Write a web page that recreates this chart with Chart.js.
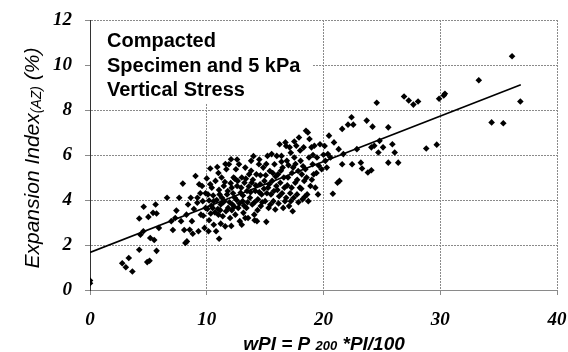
<!DOCTYPE html>
<html>
<head>
<meta charset="utf-8">
<script src="https://cdn.jsdelivr.net/npm/chart.js@4.4.0/dist/chart.umd.min.js"></script>
<style>
  html, body { margin: 0; padding: 0; background: #fff; }
  #wrap { width: 568px; height: 352px; }
</style>
</head>
<body>
<div id="wrap"><canvas id="eiChart"></canvas></div>
<script>
// measured points: wPI (x) and Expansion Index (y)
var wpi = [
  0, 0, 2.76, 3.07, 3.32, 3.63, 4.22, 4.22, 4.32, 4.57, 4.6, 4.9, 5.1, 5.0, 5.16, 5.5, 5.4, 5.62, 5.7, 5.7,
  5.9, 6.6, 6.96, 7.1, 7.3, 7.4, 7.64, 7.8, 7.95, 8.07, 8.17, 8.3, 8.26, 8.4, 8.54, 8.63, 8.73, 8.8, 9.04, 9.19,
  9.29, 9.35, 9.5, 9.6, 9.66, 9.81, 9.9,
  10.0, 10.1, 10.15, 10.2, 10.34, 10.43, 10.5, 10.6, 10.75, 10.8, 10.9, 11.0, 11.06, 11.1, 11.2, 11.27, 11.37, 11.46, 11.5, 11.58,
  11.68, 11.74, 11.83, 11.9, 12.0, 12.08, 12.14, 12.2, 12.3, 12.4, 12.45, 12.5, 12.6, 12.7, 12.76, 12.83, 12.9, 13.0, 13.07, 13.14,
  13.23, 13.3, 13.4, 13.45, 13.54, 13.63, 13.7, 13.8, 13.85, 13.9, 14.0, 14.07, 14.16, 14.25, 14.3, 14.38, 14.47, 14.57, 14.63, 14.7,
  14.84, 14.94, 15.0, 15.1, 15.2, 15.25, 15.3, 15.4, 15.5, 15.56, 15.6, 15.7, 15.8, 15.87, 15.96, 16.0, 16.1, 16.2, 16.24, 16.3,
  16.4, 16.5, 16.55, 16.65, 16.74, 16.8, 16.86, 16.96, 17.05, 17.1, 17.2, 17.27, 17.36, 17.4, 17.5, 17.58, 17.67, 17.73, 17.83, 17.9,
  17.98, 18.04, 18.14, 18.2, 18.3, 18.35, 18.45, 18.5, 18.6, 18.66, 18.76, 18.8, 18.88, 18.97, 19.07, 19.16, 19.22, 19.3, 19.44, 19.53,
  19.6, 19.7, 19.84,
  20.0, 20.1, 20.16, 20.28, 20.37, 20.47, 20.6, 20.8, 20.9, 21.2, 21.37, 21.3, 21.6, 21.7, 21.6, 22.1, 22.4, 22.45, 22.55, 22.86,
  23.2, 23.3, 23.7, 23.8, 24.1, 24.2, 24.1, 24.35, 24.56, 24.7, 24.8, 25.1, 25.55, 25.55, 25.9, 26.1, 26.4, 26.9, 27.3, 27.7,
  28.1, 28.8, 29.7, 29.9, 30.3, 30.4, 33.3, 34.4, 35.4, 36.15, 36.86,
  9.7, 9.9, 10.05, 10.2, 10.3, 10.4, 10.55, 10.7, 10.85, 10.95, 11.05, 11.15, 11.3, 11.4, 11.55, 11.65, 11.8, 11.95, 12.05, 12.15,
  12.25, 12.35, 12.55, 12.65, 12.8, 12.95, 13.1, 13.2, 13.35, 13.5, 13.6, 13.75, 13.95, 14.1, 14.2, 14.35, 14.5, 14.6, 14.75, 14.9,
  15.05, 15.15, 15.35, 15.45, 15.65, 15.75, 15.9, 16.05, 16.15, 16.35, 16.45, 16.6, 16.7, 16.9, 17.0, 17.15, 17.3, 17.45, 17.6, 17.75,
  17.85, 18.1, 18.25, 18.4, 18.55, 18.7, 19.0, 19.1, 19.4, 9.2, 8.9, 9.45, 11.2, 12.1, 13.3, 14.1, 10.6, 13.0, 12.4, 11.0,
  12.6, 13.8, 15.1, 16.4, 17.2, 14.5, 16.8, 18.0, 17.5, 10.3, 11.6
];
var expansionIndex = [
  0.3, 0.42, 1.19, 1.01, 1.42, 0.82, 1.79, 3.18, 2.46, 2.61, 3.7, 1.24, 1.3, 3.25, 2.31, 2.22, 3.43, 3.8, 1.74, 3.4,
  2.76, 4.1, 3.06, 2.67, 3.2, 3.53, 4.1, 3.06, 4.73, 2.67, 2.09, 2.16, 3.35, 3.8, 2.68, 4.1, 3.06, 2.5, 5.07, 3.88,
  2.61, 4.7, 3.35, 4.62, 3.95, 2.76, 3.65,
  4.96, 4.25, 2.61, 3.98, 3.4, 4.55, 3.65, 3.95, 4.85, 2.61, 5.47, 3.35, 2.28, 4.25, 3.8, 5.0, 3.28, 4.62, 3.95, 2.83,
  5.37, 4.25, 3.65, 5.59, 3.2, 5.81, 4.55, 3.8, 5.0, 4.1, 3.35, 5.37, 4.62, 3.65, 5.59, 3.06, 4.32, 5.0, 3.95, 3.43,
  4.77, 5.44, 3.65, 4.4, 3.2, 5.14, 4.1, 5.74, 4.77, 3.8, 5.95, 3.35, 4.4, 5.14, 3.06, 4.03, 5.59, 4.7, 3.73, 4.25,
  5.44, 4.85, 3.95, 3.03, 5.96, 4.55, 3.65, 5.29, 4.25, 6.04, 4.85, 3.95, 5.59, 3.58, 4.62, 5.96, 5.14, 4.17, 6.48, 4.77,
  5.96, 5.44, 3.65, 4.55, 6.56, 4.1, 5.74, 5.0, 3.73, 6.34, 3.95, 4.55, 3.5, 5.44, 5.89, 4.77, 6.41, 4.25, 5.29, 6.78,
  4.55, 5.74, 5.14, 4.03, 6.34, 4.85, 5.37, 7.08, 4.25, 7.0, 5.89, 6.71, 4.62, 6.34, 5.59, 5.14, 6.41, 4.55, 5.89, 4.25,
  5.52, 6.48, 5.37,
  6.01, 6.4, 5.74, 5.44, 6.04, 6.86, 5.89, 4.28, 6.56, 4.77, 4.85, 6.26, 5.59, 6.04, 7.16, 7.35, 7.68, 5.59, 7.35, 6.26,
  5.66, 5.4, 7.53, 5.22, 5.32, 7.26, 6.34, 6.41, 8.32, 6.11, 6.63, 6.34, 5.66, 7.23, 6.48, 6.11, 5.66, 8.6, 8.42, 8.24,
  8.38, 6.29, 6.46, 8.5, 8.65, 8.72, 9.32, 7.45, 7.41, 10.39, 8.38,
  3.3, 4.3, 3.6, 3.1, 4.7, 3.75, 4.2, 3.45, 4.0, 3.6, 4.45, 3.55, 4.1, 3.9, 4.8, 3.5, 4.4, 3.9, 4.75, 3.55,
  4.3, 3.7, 4.0, 4.85, 3.85, 4.55, 4.2, 3.75, 4.95, 3.9, 4.6, 4.35, 4.9, 3.9, 4.65, 3.55, 4.35, 5.1, 3.9, 4.5,
  5.1, 4.3, 4.7, 3.8, 5.2, 4.4, 5.05, 4.45, 3.85, 5.3, 4.3, 5.0, 3.95, 4.65, 5.55, 4.3, 5.2, 4.1, 5.6, 4.9,
  3.9, 4.5, 5.5, 4.15, 5.0, 3.95, 4.9, 6.0, 5.2, 4.1, 3.6, 4.3, 2.95, 2.85, 3.2, 3.1, 2.9, 2.9, 4.95, 5.2,
  5.8, 5.3, 5.6, 5.7, 6.1, 5.8, 6.4, 6.2, 6.6, 5.4, 5.6
];
// regression line end points
var fitX = [0, 36.9];
var fitY = [1.67, 9.12];

var xTicks = [0, 10, 20, 30, 40];
var yTicks = [0, 2, 4, 6, 8, 10, 12];
var noteLines = ['Compacted', 'Specimen and 5 kPa', 'Vertical Stress'];

var points = wpi.map(function (x, i) { return { x: x, y: expansionIndex[i] }; });
var fitLine = fitX.map(function (x, i) { return { x: x, y: fitY[i] }; });

var tickFont = { family: '"Liberation Serif", "DejaVu Serif", serif', size: 19, style: 'italic', weight: 'bold' };
var gridStyle = { color: '#8a8a8a', lineWidth: 1, tickLength: 5, drawTicks: true };

// white note box + custom axis titles with subscripts
var decor = {
  id: 'decor',
  beforeDatasetsDraw: function (chart) {
    var c = chart.ctx;
    var xs = chart.scales.x, ys = chart.scales.y;
    c.save();
    c.fillStyle = '#fff';
    var left = xs.getPixelForValue(0) + 1, top = ys.getPixelForValue(12) + 1;
    c.fillRect(left, top, 313 - left, 104 - top);
    c.fillStyle = '#000';
    c.font = 'bold 20px "Liberation Sans", Arial, sans-serif';
    c.textBaseline = 'alphabetic';
    noteLines.forEach(function (t, i) { c.fillText(t, 107, 47 + i * 24.5); });
    c.restore();
  },
  afterDraw: function (chart) {
    var c = chart.ctx;
    c.save();
    c.fillStyle = '#000';
    c.textBaseline = 'alphabetic';
    // y title
    var big = 'italic 21px "Liberation Sans", Arial, sans-serif';
    var small = 'italic 14px "Liberation Sans", Arial, sans-serif';
    var parts = [['Expansion Index', big, 0], ['(AZ)', small, 2], [' (%)', big, 0]];
    var w = 0;
    parts.forEach(function (p) { c.font = p[1]; w += c.measureText(p[0]).width; });
    c.translate(39, 158);
    c.rotate(-Math.PI / 2);
    var pos = -w / 2;
    parts.forEach(function (p) { c.font = p[1]; c.fillText(p[0], pos, p[2]); pos += c.measureText(p[0]).width; });
    c.setTransform(1, 0, 0, 1, 0, 0);
    // x title
    var bx = 'italic bold 19px "Liberation Sans", Arial, sans-serif';
    var sx = 'italic bold 13px "Liberation Sans", Arial, sans-serif';
    var xp = [['wPI = P ', bx, 0], ['200', sx, 0], [' *PI/100', bx, 0]];
    w = 0;
    xp.forEach(function (p) { c.font = p[1]; w += c.measureText(p[0]).width; });
    pos = 324 - w / 2;
    xp.forEach(function (p) { c.font = p[1]; c.fillText(p[0], pos, 350 + p[2]); pos += c.measureText(p[0]).width; });
    c.restore();
  }
};

var ctx = document.getElementById('eiChart').getContext('2d');
var chart = new Chart(ctx, {
  type: 'scatter',
  data: {
    datasets: [{
      label: 'Data',
      data: points,
      pointStyle: 'rectRot',
      pointRadius: 3.3,
      pointHoverRadius: 3.3,
      backgroundColor: '#000',
      borderColor: '#000',
      borderWidth: 0
    }, {
      type: 'line',
      label: 'Fit',
      data: fitLine,
      borderColor: '#000',
      borderWidth: 1.6,
      pointRadius: 0,
      fill: false
    }]
  },
  options: {
    responsive: true,
    maintainAspectRatio: false,
    animation: false,
    layout: { padding: { top: 20, right: 11, left: 0, bottom: 0 } },
    plugins: { legend: { display: false }, tooltip: { enabled: false } },
    scales: {
      x: {
        type: 'linear', min: 0, max: 40,
        afterBuildTicks: function (s) { s.ticks = xTicks.map(function (v) { return { value: v }; }); },
        afterFit: function (s) { s.height = 62; s.paddingLeft = 0; s.paddingRight = 0; },
        grid: gridStyle,
        border: { display: true, color: '#8a8a8a', dash: [2, 1] },
        ticks: { font: tickFont, color: '#000', padding: 14, maxRotation: 0 }
      },
      y: {
        type: 'linear', min: 0, max: 12,
        afterBuildTicks: function (s) { s.ticks = yTicks.map(function (v) { return { value: v }; }); },
        afterFit: function (s) { s.width = 90; s.paddingTop = 0; s.paddingBottom = 0; },
        grid: gridStyle,
        border: { display: true, color: '#333', width: 1, dash: [2, 1] },
        ticks: { font: tickFont, color: '#000', padding: 13 }
      }
    }
  },
  plugins: [decor]
});
</script>
</body>
</html>
